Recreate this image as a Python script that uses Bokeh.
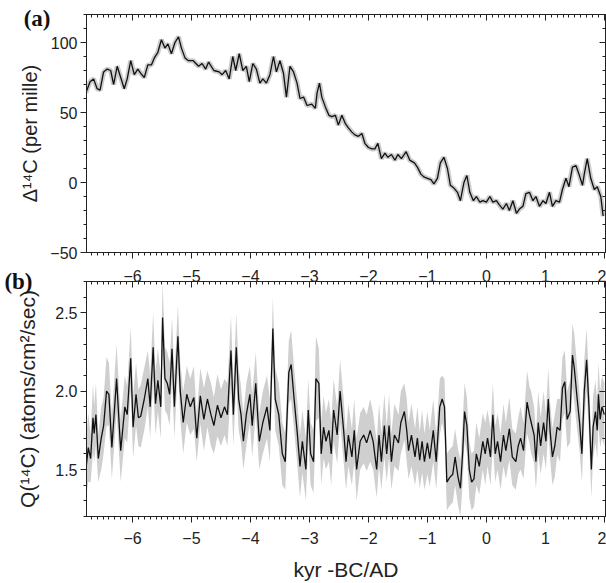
from bokeh.plotting import figure
from bokeh.layouts import column
from bokeh.models import (Range1d, LinearAxis, FixedTicker, PrintfTickFormatter,
                          CustomJSTickFormatter)
from bokeh.embed import file_html
from bokeh.resources import INLINE

# ---------------- data ----------------
# (a) Delta 14C (per mille) vs kyr BC/AD
d14c_x = [-6.79, -6.72, -6.66, -6.60, -6.55, -6.49, -6.43, -6.37, -6.32, -6.26,
          -6.20, -6.14, -6.09, -6.03, -5.97, -5.91, -5.86, -5.80, -5.74, -5.68,
          -5.63, -5.57, -5.51, -5.45, -5.40, -5.34, -5.28, -5.22, -5.17, -5.11,
          -5.05, -4.97, -4.88, -4.82, -4.76, -4.71, -4.62, -4.53, -4.48, -4.42,
          -4.36, -4.30, -4.25, -4.19, -4.13, -4.07, -4.02, -3.96, -3.90, -3.84,
          -3.79, -3.73, -3.67, -3.61, -3.56, -3.50, -3.44, -3.39, -3.33, -3.27,
          -3.21, -3.16, -3.10, -3.04, -2.96, -2.90, -2.87, -2.83, -2.79, -2.73,
          -2.67, -2.62, -2.56, -2.51, -2.45, -2.39, -2.34, -2.28, -2.23, -2.17,
          -2.11, -2.06, -2.00, -1.94, -1.89, -1.84, -1.78, -1.72, -1.67, -1.61,
          -1.55, -1.50, -1.44, -1.36, -1.30, -1.22, -1.17, -1.11, -1.06, -1.00,
          -0.94, -0.89, -0.83, -0.78, -0.72, -0.66, -0.61, -0.55, -0.49, -0.44,
          -0.38, -0.33, -0.28, -0.22, -0.17, -0.11, -0.06, 0.00, 0.06, 0.11,
          0.17, 0.22, 0.28, 0.34, 0.39, 0.45, 0.51, 0.56, 0.62, 0.67,
          0.73, 0.79, 0.84, 0.90, 0.96, 1.01, 1.07, 1.12, 1.18, 1.24,
          1.29, 1.35, 1.40, 1.46, 1.52, 1.57, 1.63, 1.66, 1.71, 1.77,
          1.83, 1.88, 1.94, 1.98]
d14c_val = [64, 72, 74, 67, 66, 79, 81, 80, 70, 83,
            75, 67, 74, 87, 77, 81, 78, 75, 84, 84,
            89, 93, 102, 96, 99, 92, 100, 104, 96, 89,
            87, 87, 83, 85, 81, 86, 80, 79, 77, 80,
            74, 90, 80, 92, 80, 83, 72, 85, 81, 71,
            74, 71, 77, 90, 79, 87, 78, 61, 83, 79,
            71, 60, 61, 55, 56, 53, 64, 71, 61, 54,
            48, 47, 48, 41, 48, 42, 39, 36, 34, 33,
            35, 28, 25, 24, 24, 28, 17, 21, 18, 20,
            16, 20, 17, 22, 16, 14, 11, 6, 4, 3,
            2, -1, 3, 14, 18, 10, -2, -4, -7, -13,
            0, 5, -7, -13, -10, -14, -13, -14, -10, -14,
            -13, -16, -19, -15, -20, -13, -22, -19, -17, -8,
            -7, -13, -10, -17, -13, -15, -7, -17, -13, -14,
            -5, 3, -3, 11, 12, 6, -2, 6, 17, 3,
            -5, -3, -10, -24]

# (b) Q(14C) production rate with uncertainty half-width
q_x = [-6.79, -6.75, -6.71, -6.67, -6.65, -6.62, -6.58, -6.53, -6.49, -6.44,
       -6.40, -6.35, -6.27, -6.20, -6.13, -6.09, -6.03, -5.99, -5.94, -5.90,
       -5.86, -5.80, -5.74, -5.70, -5.65, -5.61, -5.57, -5.52, -5.49, -5.45,
       -5.41, -5.37, -5.33, -5.29, -5.23, -5.19, -5.14, -5.08, -5.02, -4.96,
       -4.91, -4.85, -4.79, -4.73, -4.67, -4.62, -4.56, -4.50, -4.44, -4.39,
       -4.33, -4.29, -4.24, -4.20, -4.16, -4.12, -4.07, -4.01, -3.97, -3.91,
       -3.85, -3.79, -3.72, -3.67, -3.62, -3.58, -3.52, -3.46, -3.41, -3.35,
       -3.31, -3.26, -3.21, -3.16, -3.12, -3.06, -3.02, -2.98, -2.93, -2.89,
       -2.84, -2.80, -2.76, -2.72, -2.67, -2.63, -2.59, -2.53, -2.48, -2.42,
       -2.38, -2.34, -2.28, -2.24, -2.20, -2.14, -2.08, -2.03, -1.97, -1.92,
       -1.86, -1.82, -1.78, -1.73, -1.69, -1.65, -1.61, -1.56, -1.49, -1.45,
       -1.39, -1.35, -1.32, -1.27, -1.21, -1.17, -1.13, -1.09, -1.05, -1.00,
       -0.96, -0.90, -0.85, -0.79, -0.75, -0.71, -0.67, -0.62, -0.57, -0.53,
       -0.48, -0.44, -0.40, -0.37, -0.33, -0.29, -0.25, -0.21, -0.17, -0.12,
       -0.06, -0.02, 0.02, 0.07, 0.11, 0.15, 0.19, 0.24, 0.29, 0.33,
       0.39, 0.44, 0.50, 0.54, 0.58, 0.63, 0.69, 0.73, 0.76, 0.81,
       0.84, 0.88, 0.92, 0.97, 1.01, 1.05, 1.08, 1.12, 1.16, 1.20,
       1.25, 1.29, 1.33, 1.37, 1.42, 1.46, 1.49, 1.54, 1.58, 1.62,
       1.66, 1.70, 1.74, 1.78, 1.81, 1.85, 1.88, 1.90, 1.93, 1.96,
       2.00]
q_val = [1.50, 1.64, 1.57, 1.83, 1.73, 1.85, 1.57, 1.70, 1.78, 2.00,
         1.98, 1.64, 2.08, 1.62, 1.90, 1.85, 2.21, 1.77, 1.98, 1.83,
         1.84, 1.95, 2.08, 1.90, 2.28, 1.92, 2.07, 1.90, 2.47, 2.08,
         2.05, 1.98, 2.27, 1.90, 2.35, 2.00, 1.80, 1.98, 1.90, 1.96,
         1.70, 1.97, 1.82, 1.95, 1.85, 1.78, 1.91, 1.83, 1.90, 1.85,
         2.26, 1.85, 2.28, 1.95, 1.85, 1.68, 1.85, 1.98, 1.78, 2.05,
         1.68, 1.80, 1.90, 1.75, 2.40, 1.95, 1.85, 1.60, 1.55, 2.12,
         2.17, 1.95, 1.75, 1.52, 1.68, 1.50, 1.88, 1.60, 1.55, 2.08,
         2.05, 1.60, 1.77, 1.68, 1.75, 1.60, 1.88, 1.72, 2.00, 1.75,
         1.55, 1.72, 1.58, 1.75, 1.50, 1.68, 1.72, 1.67, 1.75, 1.68,
         1.50, 1.72, 1.55, 1.78, 1.60, 1.78, 1.55, 1.72, 1.67, 1.80,
         1.87, 1.75, 1.62, 1.72, 1.58, 1.70, 1.56, 1.68, 1.55, 1.67,
         1.57, 1.75, 1.55, 1.90, 1.95, 1.90, 1.42, 1.45, 1.47, 1.58,
         1.45, 1.38, 1.62, 1.87, 1.78, 1.50, 1.42, 1.44, 1.60, 1.52,
         1.68, 1.60, 1.70, 1.58, 1.85, 1.60, 1.68, 1.55, 1.72, 1.62,
         1.76, 1.58, 1.55, 1.65, 1.70, 1.62, 1.93, 1.85, 1.80, 1.72,
         1.55, 1.80, 1.65, 1.80, 1.68, 1.95, 1.75, 1.58, 1.65, 1.77,
         1.75, 2.02, 2.06, 1.82, 1.87, 2.23, 2.15, 1.95, 1.80, 1.60,
         2.00, 2.20, 1.90, 1.50, 1.77, 1.87, 1.75, 1.98, 1.82, 1.90,
         1.85]
q_err = [0.18, 0.22, 0.15, 0.22, 0.18, 0.20, 0.15, 0.20, 0.18, 0.22,
         0.20, 0.20, 0.22, 0.20, 0.20, 0.18, 0.20, 0.20, 0.20, 0.18,
         0.20, 0.20, 0.18, 0.20, 0.22, 0.20, 0.20, 0.20, 0.23, 0.20,
         0.20, 0.20, 0.20, 0.20, 0.20, 0.18, 0.20, 0.18, 0.18, 0.20,
         0.15, 0.18, 0.20, 0.18, 0.20, 0.18, 0.20, 0.18, 0.18, 0.20,
         0.22, 0.20, 0.22, 0.20, 0.18, 0.18, 0.20, 0.18, 0.20, 0.20,
         0.18, 0.20, 0.20, 0.20, 0.20, 0.20, 0.20, 0.20, 0.18, 0.20,
         0.22, 0.20, 0.20, 0.20, 0.20, 0.20, 0.20, 0.20, 0.20, 0.27,
         0.22, 0.20, 0.20, 0.18, 0.20, 0.20, 0.20, 0.18, 0.20, 0.20,
         0.18, 0.20, 0.18, 0.20, 0.20, 0.18, 0.18, 0.18, 0.20, 0.18,
         0.18, 0.20, 0.18, 0.20, 0.18, 0.20, 0.18, 0.20, 0.18, 0.20,
         0.18, 0.20, 0.18, 0.20, 0.18, 0.20, 0.18, 0.20, 0.18, 0.20,
         0.18, 0.20, 0.18, 0.18, 0.15, 0.18, 0.18, 0.18, 0.18, 0.18,
         0.18, 0.18, 0.20, 0.18, 0.18, 0.18, 0.18, 0.18, 0.20, 0.18,
         0.18, 0.20, 0.18, 0.18, 0.20, 0.18, 0.18, 0.18, 0.20, 0.18,
         0.20, 0.18, 0.18, 0.18, 0.20, 0.18, 0.20, 0.18, 0.20, 0.18,
         0.18, 0.20, 0.18, 0.20, 0.18, 0.20, 0.18, 0.18, 0.20, 0.18,
         0.20, 0.20, 0.20, 0.18, 0.20, 0.20, 0.22, 0.20, 0.18, 0.18,
         0.20, 0.20, 0.18, 0.18, 0.20, 0.20, 0.18, 0.20, 0.18, 0.20,
         0.20]

x_tick_labels = [-6, -5, -4, -3, -2, -1, 0, 1, 2]
a_y_ticks = [-50, 0, 50, 100]
b_y_ticks = [1.5, 2.0, 2.5]
panel_tags = ["(a)", "(b)"]

q_upper = [v + e for v, e in zip(q_val, q_err)]
q_lower = [v - e for v, e in zip(q_val, q_err)]

# ---------------- style ----------------
FONT = "Liberation Sans"
AXC = "#222222"
TICK_FS = "16px"
TITLE_FS = "20px"
X_RANGE = (-6.78, 2.02)

x_minor = [round(i * 0.1, 1) for i in range(-68, 21)]
a_minor = list(range(-50, 121, 10))
b_minor = [round(i * 0.1, 1) for i in range(12, 28)]


def base_axis(ax, ticker):
    ax.ticker = ticker
    ax.axis_line_color = AXC
    ax.major_tick_line_color = AXC
    ax.minor_tick_line_color = AXC
    ax.major_label_text_font = FONT
    ax.major_label_text_font_size = TICK_FS
    ax.major_label_text_color = AXC
    ax.axis_label_text_font = FONT
    ax.axis_label_text_font_style = "normal"
    ax.axis_label_text_font_size = TITLE_FS
    ax.axis_label_text_color = AXC


def outward(ax):
    ax.major_tick_out = 6
    ax.major_tick_in = 0
    ax.minor_tick_out = 3
    ax.minor_tick_in = 0


def inward(ax):
    ax.major_tick_out = 0
    ax.major_tick_in = 6
    ax.minor_tick_out = 0
    ax.minor_tick_in = 3


def hide_labels(ax):
    ax.formatter = CustomJSTickFormatter(code="return ''")
    ax.major_label_text_font_size = "0px"
    ax.major_label_text_color = None
    ax.major_label_standoff = 0


def tag_axis(p, y, text, standoff):
    # unlabelled outer axis carrying only the panel tag as its single tick label
    ax = LinearAxis(ticker=FixedTicker(ticks=[y]), major_label_overrides={y: text})
    ax.axis_line_color = None
    ax.major_tick_line_color = None
    ax.minor_tick_line_color = None
    ax.major_tick_out = 0
    ax.major_tick_in = 0
    ax.minor_tick_out = 0
    ax.minor_tick_in = 0
    ax.major_label_text_font = "Liberation Serif"
    ax.major_label_text_font_style = "bold"
    ax.major_label_text_font_size = "23px"
    ax.major_label_text_color = "#111111"
    ax.major_label_standoff = standoff
    p.add_layout(ax, "left")


def make_fig(height, top, bottom, yr):
    p = figure(width=606, height=height, output_backend="svg", toolbar_location=None,
               x_range=Range1d(*X_RANGE), y_range=Range1d(*yr),
               min_border_left=86, min_border_right=1,
               min_border_top=top, min_border_bottom=bottom)
    p.xgrid.visible = False
    p.ygrid.visible = False
    p.outline_line_color = AXC
    p.background_fill_color = "white"
    p.border_fill_color = "white"
    return p


xt = lambda: FixedTicker(ticks=x_tick_labels, minor_ticks=x_minor)

# ---------------- panel (a) ----------------
pa = make_fig(262, 14, 10, (-50, 120))
pa.line(d14c_x, d14c_val, line_color="#cccccc", line_width=5)
pa.line(d14c_x, d14c_val, line_color="#111111", line_width=1.3)

ya = pa.yaxis[0]
base_axis(ya, FixedTicker(ticks=a_y_ticks, minor_ticks=a_minor))
outward(ya)
ya.major_label_standoff = 3
ya.axis_label = "Δ¹⁴C (per mille)"
ya.axis_label_standoff = 6

xa = pa.xaxis[0]
base_axis(xa, xt())
outward(xa)
hide_labels(xa)

ra = LinearAxis()
base_axis(ra, FixedTicker(ticks=a_y_ticks, minor_ticks=a_minor))
inward(ra)
hide_labels(ra)
pa.add_layout(ra, "right")

ta = LinearAxis()
base_axis(ta, xt())
inward(ta)
hide_labels(ta)
pa.add_layout(ta, "above")

tag_axis(pa, 117, panel_tags[0], -34)

# ---------------- panel (b) ----------------
pb = make_fig(321, 19, 65, (1.2, 2.7))
pb.varea(x=q_x, y1=q_lower, y2=q_upper, fill_color="#cfcfcf")
pb.line(q_x, q_val, line_color="#111111", line_width=1.3)

yb = pb.yaxis[0]
base_axis(yb, FixedTicker(ticks=b_y_ticks, minor_ticks=b_minor))
outward(yb)
yb.formatter = PrintfTickFormatter(format="%.1f")
yb.major_label_standoff = 3
yb.axis_label = "Q(¹⁴C) (atoms/cm²/sec)"
yb.axis_label_text_font_size = "21px"
yb.axis_label_standoff = 13

xb = pb.xaxis[0]
base_axis(xb, xt())
outward(xb)
xb.major_label_standoff = 9
xb.axis_label = "kyr -BC/AD"
xb.axis_label_text_font_size = "21px"
xb.axis_label_standoff = 11

rb = LinearAxis()
base_axis(rb, FixedTicker(ticks=b_y_ticks, minor_ticks=b_minor))
inward(rb)
hide_labels(rb)
pb.add_layout(rb, "right")

tb = LinearAxis()
base_axis(tb, xt())
inward(tb)
tb.major_label_standoff = 0
pb.add_layout(tb, "above")

tag_axis(pb, 2.699, panel_tags[1], -19)

layout = column(pa, pb, spacing=0)
open("out.html", "w").write(file_html(layout, INLINE))
